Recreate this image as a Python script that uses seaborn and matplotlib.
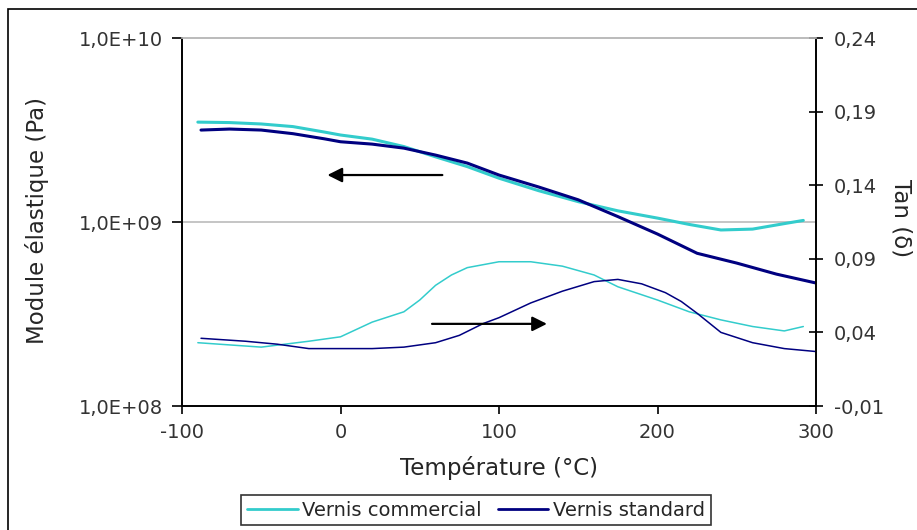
import numpy as np
import matplotlib
matplotlib.use("Agg")
import matplotlib.pyplot as plt
import seaborn as sns
import pandas as pd
from matplotlib.patches import Rectangle
from matplotlib.lines import Line2D

# ==========================================
# DONNÉES
# ==========================================
temp_mod_com = [-90, -70, -50, -30, -10, 0, 20, 40, 60, 80, 100, 125, 150, 175, 200, 220, 240, 260, 280, 292]
mod_com = [3.49e9, 3.47e9, 3.41e9, 3.30e9, 3.08e9, 2.97e9, 2.82e9, 2.57e9, 2.26e9, 2.0e9,
           1.73e9, 1.48e9, 1.29e9, 1.15e9, 1.05e9, 9.7e8, 9.05e8, 9.15e8, 9.8e8, 1.02e9]

temp_mod_std = [-88, -70, -50, -30, -10, 0, 20, 40, 60, 80, 100, 125, 150, 175, 200, 225, 250, 275, 300]
mod_std = [3.16e9, 3.2e9, 3.16e9, 3.02e9, 2.83e9, 2.73e9, 2.65e9, 2.52e9, 2.31e9, 2.09e9,
           1.8e9, 1.55e9, 1.32e9, 1.07e9, 8.6e8, 6.76e8, 5.98e8, 5.21e8, 4.66e8]

temp_tan_com = [-90, -50, -20, 0, 20, 40, 50, 60, 70, 80, 100, 120, 140, 160, 175, 200, 220, 240, 260, 280, 292]
tan_com = [0.033, 0.030, 0.034, 0.037, 0.047, 0.054, 0.062, 0.072, 0.079, 0.084, 0.088,
           0.088, 0.085, 0.079, 0.071, 0.062, 0.054, 0.0485, 0.044, 0.041, 0.044]

temp_tan_std = [-88, -60, -40, -20, 0, 20, 40, 60, 75, 90, 100, 120, 140, 160, 175, 190, 205, 215, 225, 240, 260, 280, 300]
tan_std = [0.036, 0.034, 0.032, 0.029, 0.029, 0.029, 0.030, 0.033, 0.038, 0.046, 0.050,
           0.060, 0.068, 0.0745, 0.076, 0.073, 0.067, 0.061, 0.053, 0.040, 0.033, 0.029, 0.027]

labels = ["Vernis commercial", "Vernis standard"]
colors = ["#33CCCC", "#000080"]

# ==========================================
# STYLE
# ==========================================
sns.set_style("white")
plt.rcParams['font.family'] = ['DejaVu Sans']

fig = plt.figure(figsize=(9.17, 5.30), dpi=100)
ax = fig.add_axes([182/917, 1-406/530, (816-182)/917, (406-38)/530])
ax2 = ax.twinx()

# Module (axe gauche, log)
sns.lineplot(x=temp_mod_com, y=mod_com, ax=ax, color=colors[0], linewidth=2.2)
sns.lineplot(x=temp_mod_std, y=mod_std, ax=ax, color=colors[1], linewidth=2.2)
ax.set_yscale('log')
ax.set_ylim(1e8, 1e10)
ax.set_xlim(-100, 300)
ax.set_yticks([1e8, 1e9, 1e10])
ax.set_yticklabels(["1,0E+08", "1,0E+09", "1,0E+10"])
ax.minorticks_off()
ax.set_xticks([-100, 0, 100, 200, 300])
ax.set_xticklabels(["-100", "0", "100", "200", "300"])
ax.axhline(1e9, color='#BBBBBB', linewidth=1.2, zorder=0)

# Tan delta (axe droit)
sns.lineplot(x=temp_tan_com, y=tan_com, ax=ax2, color=colors[0], linewidth=1.1)
sns.lineplot(x=temp_tan_std, y=tan_std, ax=ax2, color=colors[1], linewidth=1.1)
ax2.set_ylim(-0.01, 0.24)
ax2.set_yticks([-0.01, 0.04, 0.09, 0.14, 0.19, 0.24])
ax2.set_yticklabels(["-0,01", "0,04", "0,09", "0,14", "0,19", "0,24"])

# Axes / ticks
for a in (ax, ax2):
    for s in a.spines.values():
        s.set_color('black')
        s.set_linewidth(1.2)
    a.spines['top'].set_color('#BBBBBB')
ax.tick_params(axis='y', direction='out', length=7, width=1.2, labelsize=14, colors='black',
               labelcolor='#333333', pad=7, left=True)
ax.tick_params(axis='x', direction='out', length=6, width=1.2, labelsize=14, colors='black',
               labelcolor='#333333', pad=6, bottom=True)
ax2.tick_params(axis='y', direction='inout', length=10, width=1.2, labelsize=14, colors='black',
                labelcolor='#333333', pad=8, right=True)

ax.set_xlabel("Température (°C)", fontsize=16.5)
ax.xaxis.set_label_coords(0.5, -0.135)
ax.set_ylabel("Module élastique (Pa)", fontsize=16.5, va='center')
ax.yaxis.set_label_coords(-0.229, 0.505)
ax2.set_ylabel("Tan (δ)", fontsize=16.5, rotation=270, va='center')
ax2.yaxis.set_label_coords(1.134, 0.51)

# Flèches
ax.annotate("", xy=(-10, 1.8e9), xytext=(66, 1.8e9),
            arrowprops=dict(arrowstyle='-|>', color='black', lw=1.6, mutation_scale=22))
ax2.annotate("", xy=(132, 0.0458), xytext=(56, 0.0458),
             arrowprops=dict(arrowstyle='-|>', color='black', lw=1.6, mutation_scale=22))

# Légende
handles = [Line2D([], [], color=c, linewidth=2) for c in colors]
leg = fig.legend(handles, labels, loc='center', bbox_to_anchor=(476/917, 1-510/530), ncol=2,
                 frameon=True, fancybox=False, fontsize=14, handlelength=2.6,
                 handletextpad=0.25, columnspacing=0.8, borderpad=0.3)
leg.get_frame().set_edgecolor('black')
leg.get_frame().set_linewidth(1.2)

# Cadre de la figure
fig.patches.append(Rectangle((8/917, -0.1), 1.2, 1-9/530+0.1, transform=fig.transFigure,
                             fill=False, edgecolor='black', linewidth=1.2))

fig.savefig("out.png", dpi=100)
